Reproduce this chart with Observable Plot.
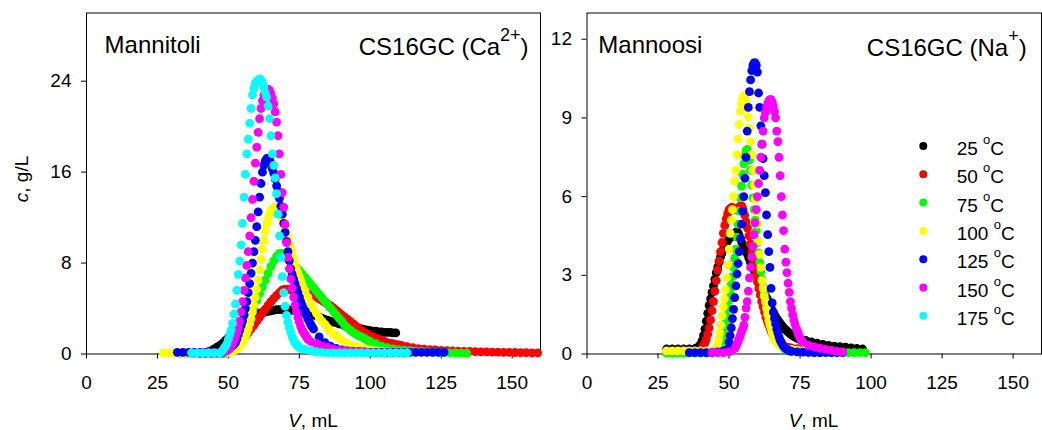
<!DOCTYPE html>
<html><head><meta charset="utf-8">
<script src="https://cdn.jsdelivr.net/npm/d3@7"></script>
<script src="https://cdn.jsdelivr.net/npm/@observablehq/plot@0.6"></script>
<style>
html,body{margin:0;padding:0;background:#fff;}
#wrap{position:relative;width:1042px;height:430px;overflow:hidden;}
#wrap svg{position:absolute;left:0;top:0;}
</style></head><body><div id="wrap"></div>
<script>
// ---------- categories, ticks, labels ----------
const temps = [25, 50, 75, 100, 125, 150, 175];
const colors = ["#000000", "#ff0000", "#00ff00", "#ffff00", "#0000ff", "#ff00ff", "#00ffff"];
const xTicks = [0, 25, 50, 75, 100, 125, 150];
const caTicks = [0, 8, 16, 24];
const naTicks = [0, 3, 6, 9, 12];
const leftTitle = "Mannitoli";
const rightTitle = "Mannoosi";

// ---------- series: segments of [V start (mL), V step (mL), c values (g/L)] ----------
// CS16GC (Ca2+), Mannitoli
const ca25 = [[40, 1, [0.1,0.12,0.15,0.2,0.3,0.45,0.6,0.75,0.95,1.2,1.45,1.7,1.95,2.2,2.45,2.7,2.9,3.1,3.25,3.4,3.5,3.6,3.65,3.7,3.75,3.8,3.85,3.9,3.9,3.9,3.9,3.9,3.85,3.85,3.8,3.8,3.75,3.7,3.65,3.55,3.45,3.35,3.25,3.15,3.05,2.95,2.9,2.8,2.75,2.65,2.6,2.5,2.45,2.4,2.35,2.3,2.25,2.2,2.15,2.1,2.05,2.0,2.0,1.95,1.95,1.9,1.9,1.9,1.85,1.85]]];
const ca50 = [[40, 2, [0.05,0.05,0.05,0.05,0.05]],
  [50, 1, [0.15,0.3,0.45,0.65,0.9,1.15,1.5,1.85,2.2,2.55,2.9,3.25,3.6,3.95,4.3,4.6,4.9,5.15,5.4,5.65,5.7,5.7,5.65,5.55,5.5,5.45,5.4,5.35,5.3,5.25,5.15,5.0,4.85,4.7,4.55,4.4,4.25,4.05,3.85,3.65,3.45,3.25,3.05,2.85,2.65,2.45,2.25,2.05,1.9,1.75,1.6,1.5,1.4,1.3,1.2,1.1,1.0,0.95,0.9,0.85,0.8]],
  [111, 2, [0.75,0.65,0.55,0.48,0.43,0.39,0.35,0.32,0.29,0.27,0.25,0.23,0.22,0.2,0.19,0.18,0.17,0.16,0.15,0.14,0.13,0.12,0.11,0.1,0.1]]];
const ca75 = [[33, 2, [0.05,0.05,0.05,0.05,0.05,0.05,0.05,0.05,0.05]],
  [50, 1, [0.15,0.3,0.5,0.8,1.2,1.7,2.3,2.9,3.5,4.1,4.7,5.3,5.9,6.5,7.1,7.7,8.2,8.6,8.85,8.85,8.6,8.35,8.1,7.85,7.6,7.35,7.05,6.75,6.45,6.15,5.85,5.55,5.25,4.95,4.65,4.35,4.05,3.75,3.45,3.15,2.85,2.55,2.3,2.1,1.9,1.75,1.6,1.5,1.35,1.2,1.1]],
  [102, 2, [0.9,0.7,0.55,0.45,0.38,0.33,0.3,0.25,0.22,0.2,0.17,0.15,0.12,0.1,0.1,0.08,0.08]]];
const ca100 = [[27, 2, [0.1,0.1,0.1,0.1,0.1,0.1,0.1,0.1,0.1,0.1,0.1]],
  [50, 0.5, [0.15,0.18,0.2,0.25,0.3,0.38,0.45,0.57,0.7,0.85,1.0,1.25,1.5,1.85,2.2,2.65,3.1,3.7,4.3,5.0,5.7,6.5,7.4,8.3,9.2,10.0,10.8,11.4,11.9,12.3,12.6,12.8,12.9,12.95,12.9,12.8,12.6,12.3,11.9,11.5,11.0,10.6,10.2,9.7,9.3,8.85,8.4,7.95,7.5,7.15,6.8,6.45]],
  [76, 1, [6.1,5.5,5.0,4.5,4.0,3.6,3.2,2.9,2.6,2.3,2.0,1.8,1.6,1.4,1.2]],
  [92, 2, [0.95,0.75,0.6,0.45,0.35,0.3,0.25,0.2,0.15,0.12,0.1]]];
const ca125 = [[32, 2, [0.15,0.15,0.15,0.15,0.15,0.15,0.15,0.15]],
  [48, 0.5, [0.2,0.25,0.3,0.4,0.45,0.55,0.65,0.75,0.85,1.0,1.3,1.7,2.1,2.5,2.9,3.4,4.0,4.6,5.4,6.2,7.1,8.0,9.0,10.0,11.2,12.5,13.8,15.0,16.0,16.6,17.0,17.2,17.2,17.1,16.8,16.3,15.9,15.4,14.8,14.3,13.7,13.0,12.3,11.5,10.7,9.9,9.0,8.2,7.5,7.0,6.6,6.2,5.8,5.4,5.0,4.6,4.3,4.0,3.7,3.4,3.1,2.9,2.6,2.4,2.2]],
  [82, 2, [1.5,1.0,0.7,0.5,0.35,0.28,0.22,0.2,0.18,0.15,0.15,0.15,0.15,0.15,0.15,0.15,0.15,0.15,0.15,0.15,0.15,0.15,0.15]]];
const ca150 = [[40, 2, [0.1,0.1,0.1,0.1]],
  [48, 0.5, [0.15,0.2,0.25,0.3,0.4,0.5,0.7,0.9,1.2,1.5,1.9,2.3,2.9,3.7,4.6,5.6,6.7,7.8,9.0,10.4,12.0,13.6,15.2,16.8,18.2,19.5,20.7,21.6,22.3,22.8,23.1,23.3,23.3,23.2,22.9,22.5,22.0,21.3,20.4,19.2,17.6,15.8,14.2,12.9,11.4,9.8,8.5,7.5,6.6,5.8,5.0,4.3,3.7,3.2,2.8,2.4,2.1,1.9,1.7,1.5,1.3]],
  [79, 2, [1.1,0.9,0.7,0.6,0.45,0.35,0.3,0.25,0.2,0.2,0.15,0.15,0.1,0.1,0.1,0.1]]];
const ca175 = [[37, 2, [0.1,0.1,0.1,0.1,0.1,0.1]],
  [48, 0.5, [0.3,0.5,0.7,0.9,1.3,1.7,2.1,2.7,3.5,4.4,5.6,7.0,8.2,9.6,11.5,13.8,15.8,17.6,18.9,20.3,21.6,22.8,23.4,23.8,24.0,24.1,24.2,24.1,23.9,23.5,23.0,22.6,21.8,20.7,19.2,17.6,16.6,15.5,14.1,12.3,10.4,8.5,6.8,5.4,4.2,3.4,2.8,2.3,1.9,1.5,1.2,1.0,0.8,0.7,0.6,0.5]],
  [77, 2, [0.4,0.3,0.2,0.15,0.1,0.1,0.1,0.1,0.1,0.1,0.1,0.1,0.1,0.1,0.1,0.1,0.1,0.1,0.1]]];

// CS16GC (Na+), Mannoosi
const na25 = [[28, 2, [0.19,0.19,0.19,0.19,0.19]],
  [38, 0.5, [0.2,0.22,0.25,0.3,0.38,0.5,0.7,0.95,1.25,1.55,1.85,2.1,2.35,2.6,2.85,3.1,3.3,3.5,3.7,3.85,4.0,4.1,4.2,4.3,4.4,4.45,4.5,4.55,4.6,4.65,4.65,4.55,4.4,4.25,4.1,4.0,3.9,3.8,3.65,3.5,3.35,3.25,3.15,3.05,2.95,2.85,2.7,2.55,2.45,2.35,2.2,2.1,1.95,1.85,1.7,1.6,1.5,1.4,1.32,1.25,1.17,1.1,1.03,0.97,0.92,0.87,0.82,0.77,0.73,0.69,0.66,0.63,0.6,0.58,0.56]],
  [77, 2, [0.52,0.46,0.41,0.37,0.33,0.3,0.28,0.26,0.23,0.21,0.19]]];
const na50 = [[34, 2, [0.1,0.1,0.1]],
  [40, 0.5, [0.15,0.22,0.3,0.42,0.55,0.75,1.0,1.3,1.65,2.0,2.4,2.8,3.2,3.55,3.9,4.25,4.6,4.9,5.15,5.35,5.5,5.55,5.6,5.55,5.5,5.5,5.55,5.6,5.65,5.65,5.5,5.3,5.05,4.8,4.5,4.2,3.9,3.6,3.3,3.0,2.75,2.5,2.25,2.0,1.8,1.6,1.4,1.25,1.1,0.95,0.82,0.7,0.6,0.52,0.45,0.4,0.35,0.32,0.3,0.28,0.26,0.25,0.24,0.23,0.22]],
  [74, 2, [0.2,0.18,0.16,0.14,0.12,0.1,0.09,0.08,0.07]]];
const na75 = [[28, 2, [0.03,0.03,0.03,0.03,0.03,0.03,0.03,0.03,0.03]],
  [46, 0.4, [0.1,0.18,0.3,0.45,0.62,0.8,1.0,1.2,1.45,1.75,2.05,2.35,2.65,2.95,3.3,3.65,4.0,4.45,4.95,5.45,5.95,6.4,6.85,7.25,7.55,7.75,7.8,7.65,7.4,7.0,6.45,5.95,5.5,5.1,4.7,4.25,3.85,3.5,3.15,2.85,2.55,2.3,2.05,1.8,1.6,1.4,1.25,1.1,0.95,0.82,0.7,0.6,0.52,0.45,0.39,0.34,0.3,0.26,0.23,0.2,0.18]],
  [72, 2, [0.14,0.11,0.09,0.07,0.06,0.05,0.05,0.05,0.05,0.05,0.05,0.05,0.05,0.05]]];
const na100 = [[28, 2, [0.12,0.12,0.12,0.12,0.12,0.12,0.12,0.12,0.12]],
  [45.2, 0.4, [0.15,0.22,0.35,0.55,0.8,1.1,1.45,1.8,2.1,2.45,2.9,3.4,4.0,4.6,5.1,5.5,6.0,6.6,7.0,7.6,8.2,8.75,9.25,9.55,9.75,9.85,9.8,9.6,9.4,9.05,8.6,8.1,7.6,7.0,6.45,5.9,5.45,4.95,4.3,3.8,3.3,2.8,2.5,2.2,2.0,1.75,1.5,1.27,1.1,0.95,0.8,0.65,0.57,0.5,0.45,0.4,0.36,0.33,0.3,0.27]],
  [70, 2, [0.22,0.18,0.15,0.13,0.12,0.12]]];
const na125 = [[36, 2, [0.05,0.05,0.05,0.05,0.06,0.08,0.12]],
  [49.6, 0.4, [0.2,0.45,0.7,1.0,1.35,1.7,2.15,2.6,3.05,3.45,3.9,4.4,4.95,5.45,6.0,6.7,7.5,8.5,9.4,10.0,10.45,10.8,11.0,11.1,11.1,11.0,10.75,9.95,9.4,8.7,8.0,7.45,6.8,6.15,5.3,4.55,3.9,3.3,2.5,1.95,1.6,1.35,1.15,0.95,0.8,0.65,0.52,0.44,0.36,0.3,0.25,0.21,0.18,0.15,0.13,0.11,0.1]],
  [74, 2, [0.08,0.07,0.06,0.05,0.05,0.05,0.05,0.05,0.05]]];
const na150 = [[44, 2, [0.05,0.05,0.05,0.08]],
  [52, 0.4, [0.2,0.28,0.38,0.48,0.6,0.72,0.85,0.95,1.1,1.4,1.75,2.0,2.4,2.9,3.3,3.7,4.1,4.55,5.0,5.5,6.0,6.5,7.0,7.5,8.0,8.5,9.0,9.2,9.4,9.55,9.65,9.7,9.7,9.6,9.45,9.25,9.0,8.5,8.1,7.5,6.8,6.0,5.3,4.7,4.0,3.5,3.1,2.7,2.35,2.0,1.75,1.5,1.3,1.15,1.0,0.9,0.78,0.66,0.55,0.5,0.46]],
  [78, 2, [0.33,0.27,0.22,0.18,0.14,0.1,0.07]]];

// ---------- build tables ----------
function expand(segs, temp) {
  const out = [];
  for (const [v0, step, cs] of segs) cs.forEach((c, i) => out.push({V: +(v0 + i * step).toFixed(2), c, temp}));
  return out;
}
const caData = [ca25, ca50, ca75, ca100, ca125, ca150, ca175].flatMap((s, i) => expand(s, temps[i]));
const naData = [na25, na50, na75, na100, na125, na150].flatMap((s, i) => expand(s, temps[i]));

const FONT = "'Liberation Sans', Arial, Helvetica, sans-serif";

function panel(data, yDomain, yTicks, mLeft, mRight) {
  const marks = [
    Plot.frame({stroke: "black", strokeWidth: 1}),
    Plot.axisX({ticks: xTicks, tickSize: 5, tickPadding: 16, label: null, stroke: "black", fill: "black"}),
    Plot.axisY({ticks: yTicks, tickSize: 5, tickPadding: 10, label: null, stroke: "black", fill: "black"}),
    Plot.dot(data, {x: "V", y: "c", fill: "temp", r: 4.4, stroke: null})
  ];
  return Plot.plot({
    width: 1042, height: 430,
    marginLeft: mLeft, marginRight: mRight, marginTop: 12.5, marginBottom: 76.5,
    style: {background: "transparent", fontFamily: FONT, fontSize: "19px", color: "black", overflow: "visible"},
    x: {domain: [0, 160]},
    y: {domain: yDomain},
    color: {type: "ordinal", domain: temps, range: colors},
    marks
  });
}

const wrap = document.getElementById("wrap");
wrap.appendChild(panel(caData, [0, 30], caTicks, 86, 502));
wrap.appendChild(panel(naData, [0, 13], naTicks, 586.5, 1));

// ---------- annotations (titles, axis titles, legend) ----------
const ov = d3.select("#wrap").append("svg")
  .attr("width", 1042).attr("height", 430)
  .attr("font-family", FONT).attr("fill", "black");

function rich(x, y, parts, size, anchor, transform) {
  const t = ov.append("text").attr("x", x).attr("y", y).attr("font-size", size)
    .attr("text-anchor", anchor || "start");
  if (transform) t.attr("transform", transform);
  for (const p of parts) {
    const s = t.append("tspan").text(p.t);
    if (p.size) s.attr("font-size", p.size);
    if (p.dy) s.attr("dy", p.dy);
    if (p.italic) s.attr("font-style", "italic");
  }
  return t;
}

rich(104.6, 53.3, [{t: leftTitle}], 24);
rich(528.6, 55, [{t: "CS16GC (Ca"}, {t: "2+", size: 18, dy: -14}, {t: ")", dy: 14}], 24, "end");
rich(598.3, 53.3, [{t: rightTitle}], 24);
rich(1026.7, 56, [{t: "CS16GC (Na"}, {t: "+", size: 18, dy: -14}, {t: ")", dy: 14}], 24, "end");

rich(0, 0, [{t: "c", italic: true}, {t: ", g/L"}], 19, "middle", "translate(28,179) rotate(-90)");
rich(313, 426.5, [{t: "V", italic: true}, {t: ", mL"}], 19, "middle");
rich(813.5, 426.5, [{t: "V", italic: true}, {t: ", mL"}], 19, "middle");

temps.forEach((T, i) => {
  ov.append("circle").attr("cx", 923.3).attr("cy", 146 + 28.3 * i).attr("r", 4).attr("fill", colors[i]);
  rich(956.7, 155 + 28.3 * i, [{t: T + " "}, {t: "o", size: 13, dy: -11}, {t: "C", dy: 11}], 19);
});
</script></body></html>
